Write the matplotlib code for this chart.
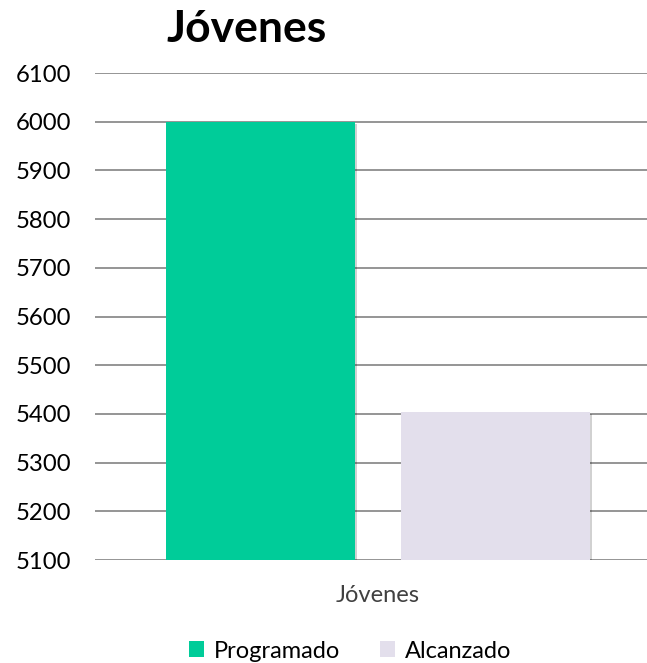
import matplotlib
matplotlib.use("Agg")
import matplotlib.pyplot as plt
import matplotlib.patheffects as pe
from matplotlib.patches import Patch

plt.rcParams['font.family'] = ['Lato', 'DejaVu Sans']

title = "Jóvenes"
category = "Jóvenes"
series = ["Programado", "Alcanzado"]
values = [6000, 5404]
colors = ["#00CC99", "#E3DFEC"]
yticks = [5100, 5200, 5300, 5400, 5500, 5600, 5700, 5800, 5900, 6000, 6100]

fig = plt.figure(figsize=(6.47, 6.63), dpi=100)
W, H = 647, 663
ax = fig.add_axes([95 / W, 1 - 560 / H, (647 - 95) / W, (560 - 73) / H])

shadow = [pe.SimplePatchShadow(offset=(1.5, -1.5), shadow_rgbFace='#000000', alpha=0.18), pe.Normal()]
for i, (s, v, c) in enumerate(zip(series, values, colors)):
    ax.bar(i, v, width=0.804, color=c, label=s, zorder=3, path_effects=shadow)

ax.set_ylim(yticks[0], yticks[-1])
ax.set_xlim(-0.704, 1.645)
ax.set_yticks(yticks)
ax.set_yticklabels([str(t) for t in yticks], fontsize=17.2)
ax.set_xticks([0.5])
ax.set_xticklabels([category], fontsize=17, color='#404040')
ax.tick_params(axis='both', length=0)
ax.tick_params(axis='y', pad=17)
ax.tick_params(axis='x', pad=18)
ax.grid(axis='y', color='#8C8C8C', linewidth=1.3, zorder=0)
for sp in ax.spines.values():
    sp.set_visible(False)

fig.text(247 / W, 1 - 29 / H, title, fontsize=32, fontweight='bold', ha='center', va='center')

handles = [Patch(facecolor=c, edgecolor='none', label=s) for s, c in zip(series, colors)]
fig.legend(handles=handles, loc='center', bbox_to_anchor=(350 / W, 1 - 651 / H), ncol=2, frameon=False,
           fontsize=17, handlelength=0.65, handleheight=0.65, columnspacing=1.7, handletextpad=0.4)

fig.savefig("out.png", dpi=100)
